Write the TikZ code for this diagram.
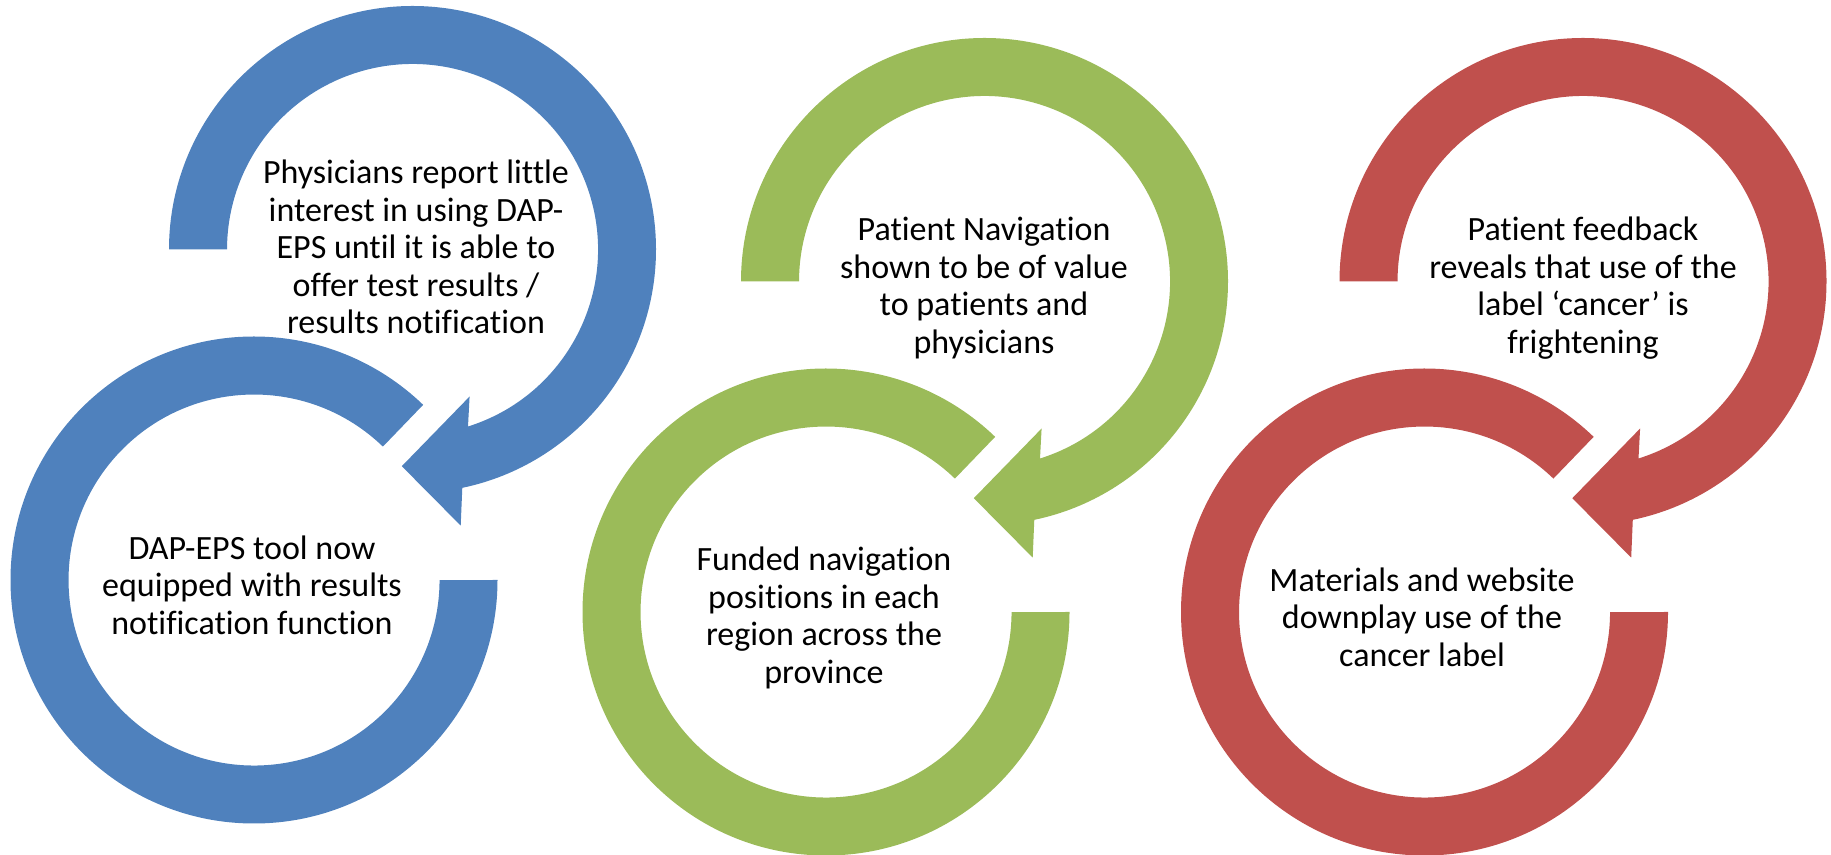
\documentclass[tikz,border=0pt]{standalone}
\usepackage{fontspec}
\setmainfont[Ligatures=NoCommon]{Carlito}
\definecolor{cblue}{HTML}{4F81BD}
\definecolor{cgreen}{HTML}{9BBB59}
\definecolor{cred}{HTML}{C0504D}
\tikzset{
  ringtext/.style={align=center, font=\fontsize{34}{37.5}\selectfont, inner sep=0pt, text=black},
}
\newcommand\ringpair[3]{%
\begin{scope}[shift={(#1,#2)}]
  % upper ring with arrow head
  \fill[#3] (169,604.5) arc[start angle=180, end angle=-78.2, radius=243.5]
    -- (460.7,328.4) -- (401.8,387.8) -- (469.6,457.5)
    -- (468.0,427.5) arc[start angle=-72.6, end angle=180, radius=185.5] -- cycle;
  % lower ring
  \fill[#3] (497.5,274) arc[start angle=0, end angle=-314, radius=243.5]
    -- (382.9,407.4) arc[start angle=-314, end angle=0, radius=185.5] -- cycle;
\end{scope}}
\begin{document}
\begin{tikzpicture}[x=1pt,y=1pt]
\useasboundingbox (0,0) rectangle (1831,854);
\ringpair{0}{0}{cblue}
\ringpair{572}{-32}{cgreen}
\ringpair{1170.5}{-32}{cred}
\node[ringtext] (t1) at (416,607) {Physicians report little\\interest in using DAP-\\EPS until it is able to\\offer test results /\\results notification};
\node[ringtext] (t2) at (252,269) {DAP-EPS tool now\\equipped with results\\notification function};
\node[ringtext] (t3) at (984,566) {Patient Navigation\\shown to be of value\\to patients and\\physicians};
\node[ringtext] (t4) at (824,236) {Funded navigation\\positions in each\\region across the\\province};
\node[ringtext] (t5) at (1583,566) {Patient feedback\\reveals that use of the\\label ‘cancer’ is\\frightening};
\node[ringtext] (t6) at (1422,237) {Materials and website\\downplay use of the\\cancer label};
\end{tikzpicture}
\end{document}
